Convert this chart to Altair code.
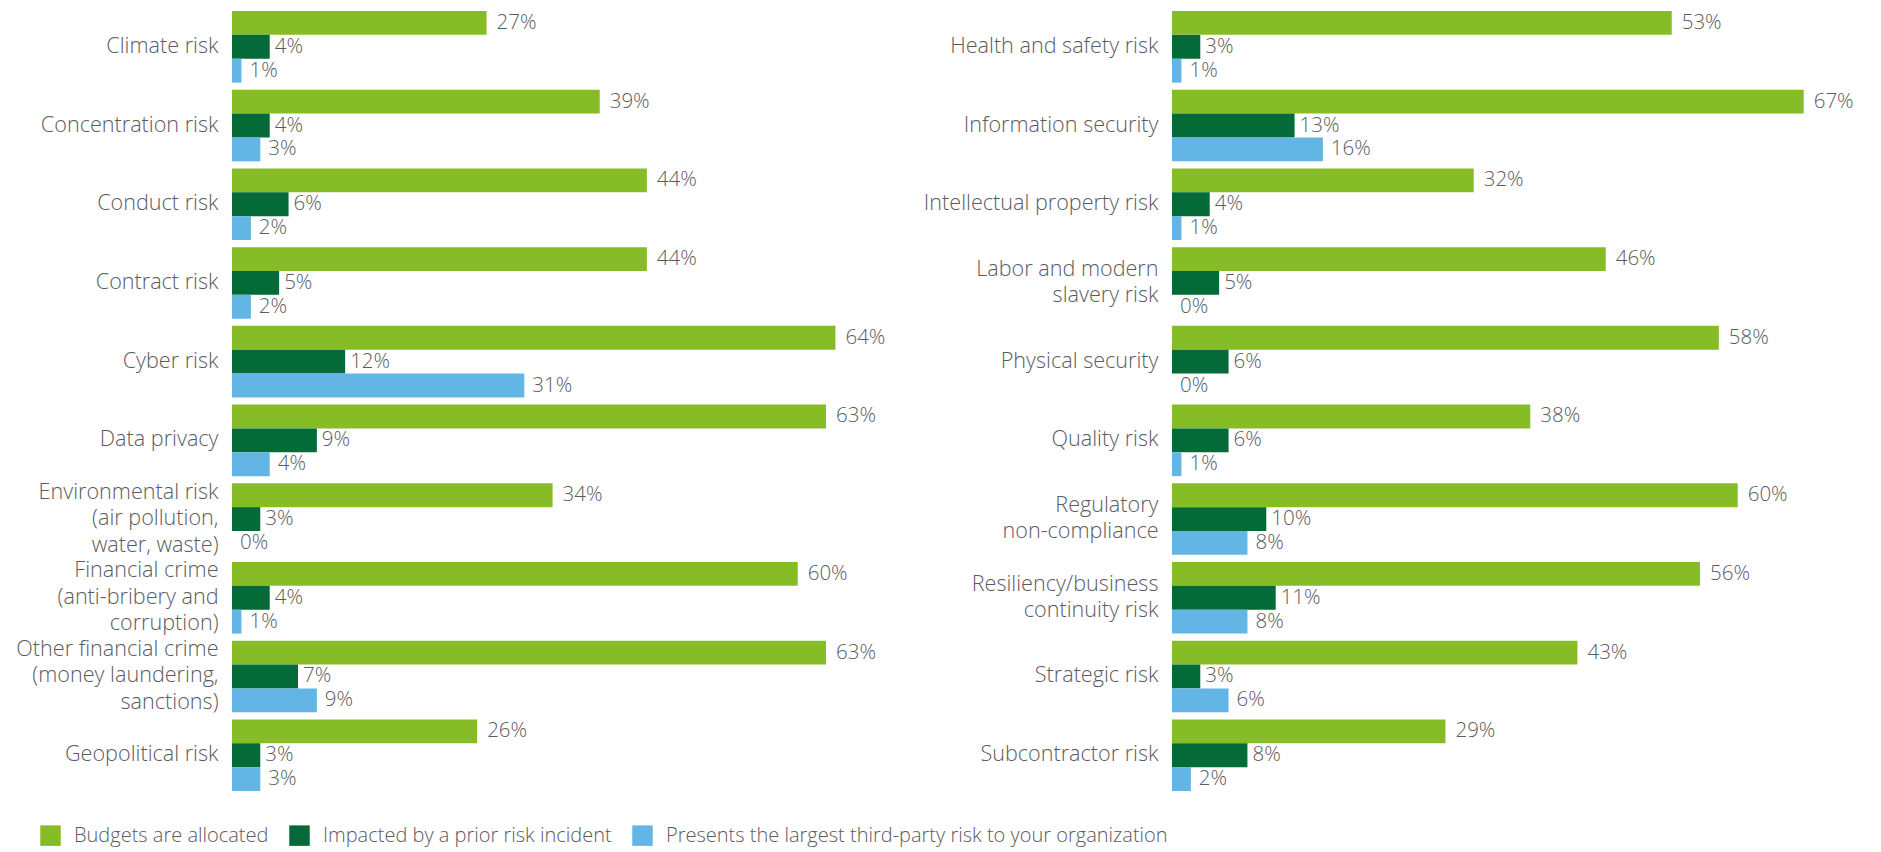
import altair as alt
import pandas as pd

series = [
    "Budgets are allocated",
    "Impacted by a prior risk incident",
    "Presents the largest third-party risk to your organization",
]
colors = ["#86BC25", "#046A38", "#62B5E5"]

left_cats = [
    "Climate risk",
    "Concentration risk",
    "Conduct risk",
    "Contract risk",
    "Cyber risk",
    "Data privacy",
    "Environmental risk|(air pollution,|water, waste)",
    "Financial crime|(anti-bribery and|corruption)",
    "Other financial crime|(money laundering,|sanctions)",
    "Geopolitical risk",
]
left_budgets = [27, 39, 44, 44, 64, 63, 34, 60, 63, 26]
left_impacted = [4, 4, 6, 5, 12, 9, 3, 4, 7, 3]
left_largest = [1, 3, 2, 2, 31, 4, 0, 1, 9, 3]

right_cats = [
    "Health and safety risk",
    "Information security",
    "Intellectual property risk",
    "Labor and modern|slavery risk",
    "Physical security",
    "Quality risk",
    "Regulatory|non-compliance",
    "Resiliency/business|continuity risk",
    "Strategic risk",
    "Subcontractor risk",
]
right_budgets = [53, 67, 32, 46, 58, 38, 60, 56, 43, 29]
right_impacted = [3, 13, 4, 5, 6, 6, 10, 11, 3, 8]
right_largest = [1, 16, 1, 0, 0, 1, 8, 8, 6, 2]

FONT = "Open Sans"
TXT = "#5a5b5e"
CAT_SIZE = 21.6
LINE_H = 26.5


def make_df(cats, vals_list):
    rows = []
    for s, vals in zip(series, vals_list):
        for c, v in zip(cats, vals):
            rows.append({"category": c, "series": s, "value": v, "label": f"{v}%"})
    return pd.DataFrame(rows)


legend = alt.Legend(
    title=None,
    orient="none",
    direction="horizontal",
    legendX=-192,
    legendY=814,
    symbolType="square",
    symbolSize=420,
    symbolStrokeWidth=0,
    labelFontSize=20,
    labelFont=FONT,
    labelFontWeight=300,
    labelColor=TXT,
    labelOffset=13,
    columnPadding=20,
    labelLimit=700,
)

dx_by_series = [10, 5, 8]

label_offset = {
    "condition": [
        {"test": "length(split(datum.value, '|')) == 3", "value": -LINE_H},
        {"test": "length(split(datum.value, '|')) == 2", "value": -LINE_H / 2},
    ],
    "value": 0,
}


def panel(cats, vals_list):
    df = make_df(cats, vals_list)
    base = alt.Chart(df).encode(
        y=alt.Y(
            "category:N",
            sort=cats,
            title=None,
            scale=alt.Scale(paddingInner=0.09, paddingOuter=0),
            axis=alt.Axis(
                labelExpr="split(datum.label, '|')",
                ticks=False,
                domain=False,
                labelFontSize=CAT_SIZE,
                labelFont=FONT,
                labelFontWeight=300,
                labelColor=TXT,
                labelPadding=14,
                labelLineHeight=LINE_H,
                labelLimit=400,
                labelOffset=label_offset,
            ),
        ),
        yOffset=alt.YOffset(
            "series:N", sort=series, scale=alt.Scale(paddingInner=0, paddingOuter=0)
        ),
        x=alt.X("value:Q", scale=alt.Scale(domain=[0, 70]), axis=None),
    )
    bars = base.mark_bar().encode(
        color=alt.Color(
            "series:N",
            sort=series,
            scale=alt.Scale(domain=series, range=colors),
            legend=legend,
        )
    )
    texts = []
    for s, dx in zip(series, dx_by_series):
        texts.append(
            base.transform_filter(alt.datum.series == s)
            .mark_text(
                align="left",
                baseline="middle",
                dx=dx,
                fontSize=20.5,
                font=FONT,
                fontWeight=300,
                color=TXT,
            )
            .encode(text="label:N")
        )
    return alt.layer(bars, *texts).properties(width=660, height=780)


left = panel(left_cats, [left_budgets, left_impacted, left_largest])
right = panel(right_cats, [right_budgets, right_impacted, right_largest])

chart = (
    alt.hconcat(left, right, spacing=31)
    .properties(padding={"left": 7, "top": 3, "right": 0, "bottom": 2})
    .configure_view(stroke=None)
    .configure_concat(spacing=31)
)

chart.save("out.html", embed_options={"renderer": "svg", "actions": False})
